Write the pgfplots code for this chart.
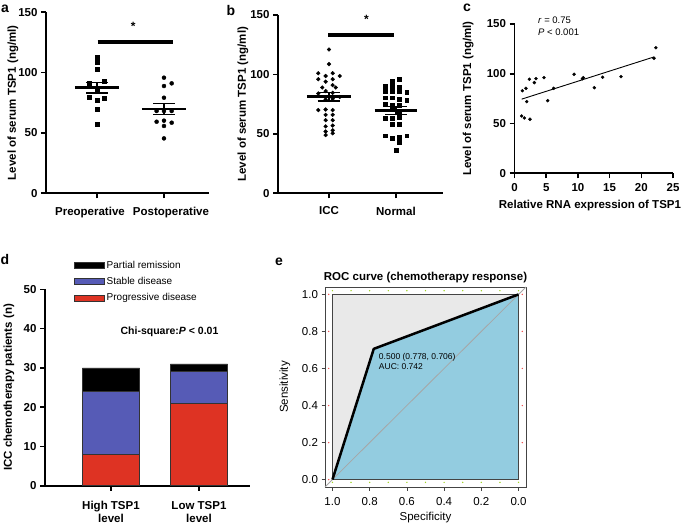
\documentclass[border=0pt]{standalone}
\usepackage{fontspec}
\setmainfont{Liberation Sans}
\usepackage{pgfplots}
\pgfplotsset{compat=1.18}

\definecolor{pdred}{RGB}{222,51,35}
\definecolor{sdblue}{RGB}{86,91,182}
\definecolor{roclblue}{RGB}{147,204,224}
\definecolor{rocgray}{RGB}{233,233,233}
\definecolor{rocdark}{RGB}{68,68,68}
\definecolor{rocgreen}{RGB}{160,210,40}
\definecolor{rocred}{RGB}{240,80,80}

\pgfplotsset{
 gp/.style={
  scale only axis,
  anchor=south west,
  axis x line=bottom, axis y line=left,
  axis line style={line width=1.8pt, -},
  x axis line style={-}, y axis line style={-},
  tick style={line width=1.6pt, black},
  major tick length=5pt,
  tick align=outside,
  /pgf/number format/assume math mode=true,
  tick label style={font=\bfseries\fontsize{11.5}{13}\selectfont},
  label style={font=\bfseries\fontsize{11.5}{13}\selectfont},
  clip=false,
 },
}

\begin{document}
\begin{tikzpicture}[x=1pt,y=1pt]
\fill[white] (0,0) rectangle (685,525);
\path[use as bounding box] (0,0) rectangle (685,525);

% ---------------- panel a
\begin{axis}[gp, at={(46pt,331.7pt)}, width=163pt, height=181pt,
 xmin=-0.761, xmax=1.672, ymin=0, ymax=150,
 xtick={0,1}, xticklabels={\hspace*{-14pt}Preoperative,\hspace*{14pt}Postoperative},
 x tick label style={yshift=-5pt},
 ytick={0,50,100,150},
 ylabel={Level of serum TSP1 (ng/ml)},
 ylabel style={at={(axis description cs:-0.2025,0.5)}, anchor=center},
]
\addplot[only marks, mark=square*, mark size=2pt, black] coordinates {
(0,113.2) (0,111.0) (0,108.5) (0,102.8) (0.115,93.0) (-0.115,91.1)
(0,86.4) (-0.115,80.0) (0,77.3) (0.115,79.2) (0,69.6) (0,57.2)};
\addplot[only marks, mark=*, mark size=2pt, black] coordinates {
(1,95.8) (1.115,91.1) (1,88.9) (1,79.2) (0.89,68.2) (1,68.2) (1.115,68.2)
(0.89,59.3) (1,60.2) (1.115,58.5) (1,55.8) (1,45.5)};
\addplot[line width=2.6pt] coordinates {(-0.33,87.6) (0.33,87.6)};
\addplot[line width=1.3pt] coordinates {(-0.16,92.1) (0.16,92.1)};
\addplot[line width=1.3pt] coordinates {(-0.16,83.0) (0.16,83.0)};
\addplot[line width=1.3pt] coordinates {(0,83.0) (0,92.1)};
\addplot[line width=2.6pt] coordinates {(0.67,69.8) (1.33,69.8)};
\addplot[line width=1.3pt] coordinates {(0.84,74.4) (1.16,74.4)};
\addplot[line width=1.3pt] coordinates {(0.84,65.4) (1.16,65.4)};
\addplot[line width=1.3pt] coordinates {(1,65.4) (1,74.4)};
\addplot[line width=3.8pt] coordinates {(0.01,125.6) (1.14,125.6)};
\node[font=\bfseries\fontsize{12}{13}\selectfont] at (axis cs:0.54,138) {*};
\end{axis}

% ---------------- panel b
\begin{axis}[gp, at={(278pt,331.7pt)}, width=165.3pt, height=178.3pt,
 xmin=-0.761, xmax=1.706, ymin=0, ymax=150,
 xtick={0,1}, xticklabels={ICC,Normal},
 x tick label style={yshift=-5pt},
 ytick={0,50,100,150},
 ylabel={Level of serum TSP1 (ng/ml)},
 ylabel style={at={(axis description cs:-0.212,0.5)}, anchor=center},
]
\addplot[only marks, mark=*, mark size=1.9pt, black] coordinates {
(0,121) (0,108.7) (-0.16,101) (0.055,101) (-0.05,98.7) (0.16,98.7)
(-0.16,96) (0.055,96) (-0.05,93.9) (0.055,91) (-0.1,89) (0.1,89)
(-0.05,86) (0.055,84.5) (-0.16,84) (0.16,81) (-0.05,79) (0.055,79.5)
(-0.16,70) (-0.05,70.5) (0.055,70) (-0.05,66) (0.055,66) (-0.05,61.5)
(0.055,61.5) (-0.05,56.3) (0.055,57) (-0.05,52) (0.055,53) (-0.05,49) (0.055,50.5)};
\addplot[only marks, mark=square*, mark size=1.9pt, black] coordinates {
(1.05,96) (0.94,94) (0.84,90) (0.94,90) (1.05,89.5) (0.84,86) (0.94,86)
(1.05,86) (1.16,85) (0.84,80.5) (0.94,80.5) (1.05,79) (1.16,78) (0.84,75)
(0.94,74) (1.05,74) (0.94,71) (1.05,67) (0.84,63) (0.94,63.5) (1.05,64)
(0.94,58) (1.05,58) (0.84,48.5) (0.94,46.5) (1.05,47) (1.16,48.5) (1.05,43) (1,36)};
\addplot[line width=2.6pt] coordinates {(-0.33,81.3) (0.33,81.3)};
\addplot[line width=1.3pt] coordinates {(-0.17,84.8) (0.17,84.8)};
\addplot[line width=1.3pt] coordinates {(-0.17,77.6) (0.17,77.6)};
\addplot[line width=1.3pt] coordinates {(0,77.6) (0,84.8)};
\addplot[line width=2.6pt] coordinates {(0.68,69.8) (1.32,69.8)};
\addplot[line width=1.3pt] coordinates {(0.84,73.0) (1.16,73.0)};
\addplot[line width=1.3pt] coordinates {(0.84,66.4) (1.16,66.4)};
\addplot[line width=1.3pt] coordinates {(1,66.4) (1,73.0)};
\addplot[line width=3.8pt] coordinates {(-0.01,133.1) (0.97,133.1)};
\node[font=\bfseries\fontsize{12}{13}\selectfont] at (axis cs:0.56,146) {*};
\end{axis}

% ---------------- panel c
\begin{axis}[gp, at={(514.5pt,351.7pt)}, width=158.5pt, height=149.3pt,
 xmin=0, xmax=25, ymin=0, ymax=150,
 xtick={0,5,10,15,20,25}, ytick={0,50,100,150},
 x tick label style={yshift=-2pt},
 xlabel={Relative RNA expression of TSP1},
 xlabel style={at={(axis description cs:0.476,-0.215)}, anchor=center},
 ylabel={Level of serum TSP1 (ng/ml)},
 ylabel style={at={(axis description cs:-0.293,0.5)}, anchor=center},
]
\addplot[only marks, mark=*, mark size=1.5pt, black] coordinates {
(1.24,83) (1.81,85.4) (2.34,94.5) (3.13,91.1) (3.39,95.1) (4.65,96.1)
(1.92,72) (5.23,73) (6.18,85.4) (9.39,99.5) (10.7,95.0) (10.86,96.1)
(12.59,86) (13.9,96.5) (16.8,97.1) (22.0,115.6) (22.3,126.2)
(1.13,57.6) (1.55,55.6) (2.44,54.3)};
\addplot[line width=0.9pt] coordinates {(1.13,74.5) (22.0,116.9)};
\node[anchor=north west, align=left, font=\fontsize{9.5}{12}\selectfont, inner sep=0pt]
 at (axis cs:3.7,157) {\textit{r} = 0.75\\\textit{P} < 0.001};
\end{axis}

% ---------------- panel d
\begin{axis}[gp, at={(45pt,39.3pt)}, width=205pt, height=196.4pt,
 ybar stacked, bar width=0.65,
 xmin=-0.75, xmax=1.58, ymin=0, ymax=50,
 xtick={0,1}, xticklabels={{High TSP1\\level},{Low TSP1\\level}},
 x tick label style={align=center, yshift=-7pt},
 ytick={0,10,20,30,40,50},
 ylabel={ICC chemotherapy patients (n)},
 ylabel style={at={(axis description cs:-0.176,0.5)}, anchor=center},
 reverse legend,
 legend cell align=left,
 legend style={at={(rel axis cs:0.141,1.155)}, anchor=north west, draw=none, fill=none,
   font=\fontsize{10}{12}\selectfont, row sep=3.5pt, inner sep=0pt},
 legend image code/.code={\draw[#1,/tikz/.cd] (0pt,-3pt) rectangle (30pt,3pt);},
]
\addplot[fill=pdred, draw=black!80, line width=0.6pt] coordinates {(0,8) (1,21)};
\addplot[fill=sdblue, draw=black!80, line width=0.6pt] coordinates {(0,16) (1,8)};
\addplot[fill=black, draw=black!80, line width=0.6pt] coordinates {(0,6) (1,2)};
\legend{Progressive disease, Stable disease, Partial remission}
\node[font=\bfseries\fontsize{10.5}{12}\selectfont] at (axis cs:0.665,39.3) {Chi-square:\textit{P} < 0.01};
\end{axis}

% ---------------- panel e
\begin{axis}[scale only axis, anchor=south west, at={(325pt,38pt)}, width=201pt, height=200pt,
 x dir=reverse, xmin=-0.04, xmax=1.04, ymin=-0.04, ymax=1.04,
 xtick={0,0.2,0.4,0.6,0.8,1}, ytick={0,0.2,0.4,0.6,0.8,1},
 xtick pos=left, ytick pos=left, tick align=outside, major tick length=3.5pt,
 axis line style={rocdark, line width=0.8pt}, tick style={rocdark, line width=0.6pt},
 /pgf/number format/.cd, fixed, fixed zerofill, precision=1, assume math mode=true,
 /pgfplots/.cd,
 tick label style={font=\fontsize{11.5}{13}\selectfont},
 x tick label style={yshift=-3pt},
 label style={font=\fontsize{11.5}{13}\selectfont},
 title={ROC curve (chemotherapy response)},
 title style={at={(axis description cs:0.5,1.015)}, anchor=center, font=\bfseries\fontsize{11.5}{13}\selectfont},
 xlabel={Specificity},
 xlabel style={at={(axis description cs:0.5,-0.155)}, anchor=center},
 ylabel={Sensitivity},
 ylabel style={at={(axis description cs:-0.199,0.5)}, anchor=center},
 clip=false,
]
\addplot[fill=rocgray, draw=none] coordinates {(1,0) (1,1) (0,1) (0,0)} -- cycle;
\addplot[fill=roclblue, draw=none] coordinates {(1,0) (0.778,0.706) (0,1) (0,0)} -- cycle;
\addplot[rocdark, line width=1.8pt] coordinates {(1,0) (1,1) (0,1) (0,0)} -- cycle;
\addplot[black!35, line width=0.8pt] coordinates {(1.04,-0.04) (-0.04,1.04)};
\addplot[black, line width=2.5pt, line join=round] coordinates {(1,0) (0.778,0.706) (0,1)};
\addplot[only marks, mark=*, mark size=0.45pt, rocgreen] coordinates {
(1,1.02) (0.9,1.02) (0.8,1.02) (0.7,1.02) (0.6,1.02) (0.5,1.02) (0.4,1.02) (0.3,1.02) (0.2,1.02) (0.1,1.02) (0,1.02)
(1,-0.015) (0.9,-0.015) (0.8,-0.015) (0.7,-0.015) (0.6,-0.015) (0.5,-0.015) (0.4,-0.015) (0.3,-0.015) (0.2,-0.015) (0.1,-0.015) (0,-0.015)};
\addplot[only marks, mark=*, mark size=0.45pt, rocred] coordinates {
(1.02,0) (1.02,0.2) (1.02,0.4) (1.02,0.6) (1.02,0.8) (1.02,1)
(-0.02,0.2) (-0.02,0.4) (-0.02,0.6) (-0.02,0.8) (-0.02,1)};
\node[anchor=west, align=left, font=\fontsize{8.5}{10}\selectfont, inner sep=0pt]
 at (axis cs:0.751,0.64) {0.500 (0.778, 0.706)\\AUC: 0.742};
\end{axis}

% panel letters
\node[font=\bfseries\fontsize{14}{15}\selectfont] at (5,516) {a};
\node[font=\bfseries\fontsize{14}{15}\selectfont] at (231,514) {b};
\node[font=\bfseries\fontsize{14}{15}\selectfont] at (467,517) {c};
\node[font=\bfseries\fontsize{14}{15}\selectfont] at (5,266) {d};
\node[font=\bfseries\fontsize{14}{15}\selectfont] at (279,263) {e};
\end{tikzpicture}
\end{document}
